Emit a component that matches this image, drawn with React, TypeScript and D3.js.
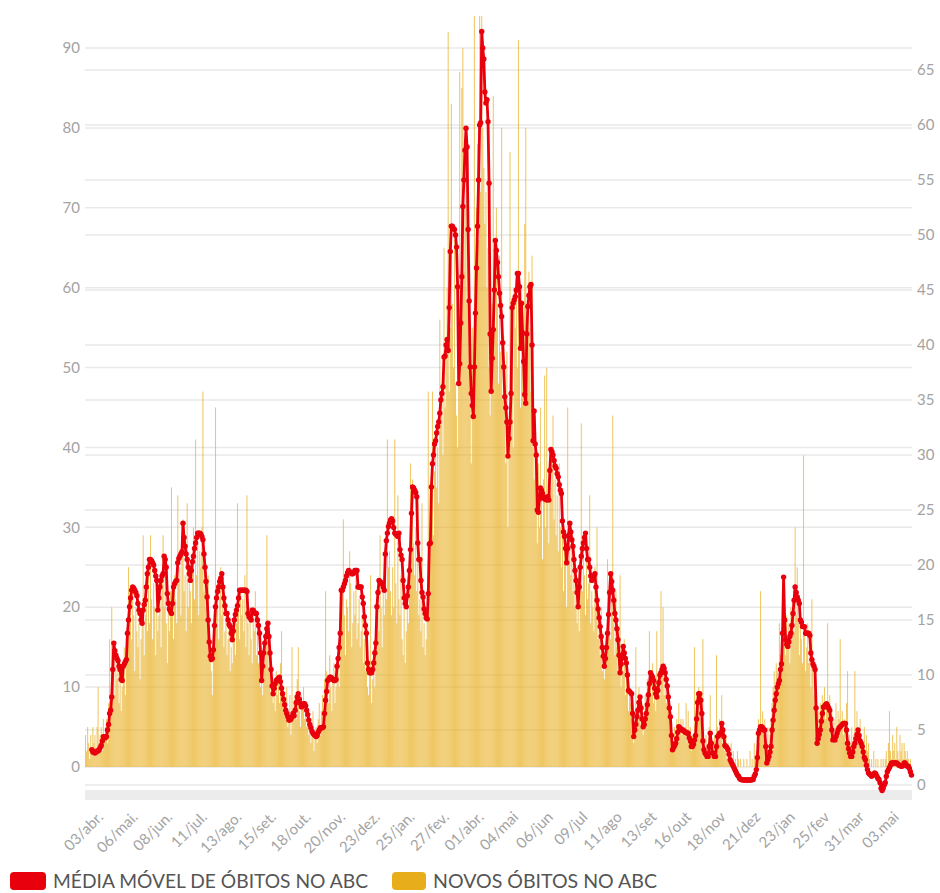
import * as d3 from "d3";

// Óbitos diários e média móvel no ABC, 21/03/2020 a 18/05/2022 (um valor por dia)
const rotulosX = ["03/abr.", "06/mai.", "08/jun.", "11/jul.", "13/ago.", "15/set.", "18/out.", "20/nov.", "23/dez.", "25/jan.", "27/fev.", "01/abr.", "04/mai", "06/jun", "09/jul", "11/ago", "13/set", "16/out", "18/nov", "21/dez", "23/jan", "25/fev", "31/mar", "03.mai"];
const primeiroRotulo = 13;
const passoRotulo = 33;
const ticksEsq = [0, 10, 20, 30, 40, 50, 60, 70, 80, 90];
const ticksDir = [0, 5, 10, 15, 20, 25, 30, 35, 40, 45, 50, 55, 60, 65];

// novos óbitos (eixo esquerdo)
const novos1 = [4,2,5,3,1,4,2,5,3,4, 2,5,10,3,4,5,2,6,4,5, 6,3,8,16,7,20,12,15,9,13, 11,14,8,13,7,10,12,15,9,16, 14,25,18,21,16,22,19,12,20,17, 15,18,11,16,20,29,14,19,22,17, 24,18,29,21,16,23,20,14,22,17, 19,21,15,23,29,20,24,18,13,21, 17,22,35,19,16,24,21,18,34,23, 25,19,27,31,22,24,17,33,20,23];
const novos2 = [22,18,26,30,21,41,24,28,19,27, 25,30,47,22,26,20,18,24,14,16, 12,9,15,18,45,20,23,16,21,25, 19,22,15,17,20,14,16,18,12,15, 13,17,19,14,18,33,20,16,22,19, 21,17,24,15,34,18,14,20,16,13, 19,17,22,14,18,13,16,10,12,9, 15,13,18,29,16,12,14,9,11,8, 10,7,12,9,11,8,13,17,9,7, 8,6,10,5,7,9,4,15,6,8];
const novos3 = [9,6,11,15,7,5,9,8,10,6, 8,5,7,4,6,3,5,7,2,4, 5,3,6,8,4,7,9,6,11,22, 12,9,8,14,10,7,11,13,8,10, 12,15,10,18,16,22,31,19,14,21, 20,17,27,23,15,18,22,19,24,16, 18,21,15,17,19,13,16,12,14,10, 9,12,24,8,11,13,10,16,18,21, 17,29,20,15,22,19,24,21,41,25, 27,22,19,25,20,41,23,18,34,21];
const novos4 = [19,24,16,14,20,13,17,22,18,25, 38,26,36,28,24,30,22,34,19,21, 17,33,15,18,14,16,20,47,24,28, 32,47,29,37,42,35,40,33,56,44, 48,39,65,45,52,60,92,47,55,83, 58,50,66,48,44,40,52,87,60,85, 90,62,70,75,58,66,50,45,38,55, 50,94,60,70,78,66,94,72,94,80, 75,68,72,60,65,50,44,52,58,84, 62,55,70,58,48,64,52,80,46,54];
const novos5 = [45,38,52,30,42,77,48,56,40,60, 55,62,50,91,58,45,60,52,48,68, 80,50,58,62,55,47,64,40,36,44, 32,28,38,30,45,34,26,36,49,30, 50,33,28,38,35,40,44,31,36,29, 34,27,38,30,25,32,22,28,26,20, 45,26,30,24,28,22,27,20,24,18, 21,17,25,43,22,28,24,19,26,21, 23,34,18,22,20,17,25,21,30,16, 18,14,20,12,15,11,13,16,26,19];
const novos6 = [20,16,24,44,18,14,22,15,12,17, 24,10,14,12,16,9,13,11,7,10, 8,6,9,3,5,15,6,8,10,7, 5,8,4,6,9,7,11,8,17,12, 9,13,8,11,7,17,10,12,9,22, 12,20,9,13,8,11,7,9,5,3, 4,2,5,3,6,4,8,5,6,4, 6,4,5,8,3,7,4,5,2,4, 3,15,5,9,7,10,8,6,4,16, 3,2,4,1,3,5,9,4,2,3];
const novos7 = [4,2,14,5,3,6,4,9,3,5, 2,4,1,3,2,1,3,1,2,0, 1,0,2,1,0,1,0,0,1,0, 0,1,0,0,2,0,1,0,3,1, 2,4,6,3,22,5,7,4,6,3, 3,5,2,4,6,8,10,12,9,13, 12,10,18,14,16,20,23,17,14,19, 15,18,13,20,16,21,17,30,19,25, 18,14,20,16,13,39,17,12,15,18, 13,16,10,21,12,9,11,6,4,7];
const novos8 = [5,8,6,9,7,10,6,8,18,7, 9,5,7,3,6,4,8,5,7,6, 16,5,7,4,6,3,8,12,2,4, 3,5,2,4,12,3,7,5,4,6, 4,3,2,5,1,4,2,3,1,0, 1,0,2,0,1,0,1,0,0,1, 0,1,0,1,2,0,3,7,2,1, 4,2,3,1,5,2,1,4,2,3, 1,3,2,1,2,1,0,1,0];

// média móvel (eixo direito)
const media1 = [null,null,null,null,null,null,3.2,3.0,3.0,2.9, 3.0,3.1,3.1,3.2,3.4,3.6,4.0,4.4,4.4,4.3, 4.4,5.0,5.5,6.5,6.8,8.0,10.5,12.9,12.2,11.8, 11.5,11.3,10.8,10.5,9.6,9.5,10.8,11.0,11.2,11.4, 13.8,15.0,16.2,17.0,17.7,18.0,17.9,17.7,17.5,17.2, 16.5,15.9,15.6,15.0,14.7,15.9,16.4,16.8,18.0,19.2, 19.8,20.5,20.5,20.4,20.2,20.0,19.5,19.0,18.6,15.9, 17.0,18.0,18.6,19.0,19.2,20.8,20.5,19.8,17.4,16.5, 16.0,15.8,15.6,16.5,18.0,18.3,18.5,18.6,20.2,20.6, 20.8,21.0,21.2,23.8,22.5,21.7,21.0,20.5,19.8,19.2];
const media2 = [18.6,19.5,20.3,20.8,21.5,22.0,22.5,22.9,22.9,22.9, 22.8,22.6,22.3,21.0,19.8,18.5,17.1,15.0,13.0,11.7, 11.4,11.5,12.3,14.5,16.2,17.0,17.6,18.0,18.5,18.8, 19.2,18.0,17.0,16.3,15.6,15.6,15.0,14.6,14.4,13.8, 13.2,14.0,15.0,15.5,15.9,16.3,17.0,17.7,17.7,17.7, 17.7,17.7,17.7,17.7,17.6,15.6,15.3,15.2,15.0,15.9, 15.9,15.7,15.6,15.6,15.0,14.5,13.8,12.0,9.5,10.8, 12.0,12.9,13.5,14.2,14.7,13.5,12.0,10.5,9.0,8.3, 8.8,9.2,9.5,9.6,9.7,9.8,9.4,8.8,8.3,7.8, 7.3,6.8,6.5,6.2,5.9,5.9,6.0,6.2,6.5,6.3];
const media3 = [6.8,7.5,8.0,8.3,7.8,7.4,7.1,7.2,7.4,7.4, 7.2,6.8,6.4,5.9,5.5,5.2,4.9,4.7,4.6,4.5, 4.4,4.5,4.8,5.0,5.2,5.2,5.2,5.3,6.5,7.7, 8.5,9.5,9.6,9.8,9.8,9.7,9.6,9.5,9.5,9.6, 10.8,11.5,12.5,13.8,17.7,17.7,18.0,18.3,18.6,19.0, 19.3,19.5,19.4,19.3,19.2,19.2,19.3,19.5,19.5,19.5, 18.0,18.0,18.0,18.0,17.1,16.5,15.3,14.5,13.8,11.1, 10.5,10.2,10.2,10.2,10.5,11.1,12.0,12.9,16.2,17.5, 18.6,18.5,18.4,18.3,18.0,17.7,21.0,22.2,22.9,23.5, 23.8,24.1,24.2,24.0,23.4,22.9,22.8,22.7,22.6,22.9];
const media4 = [21.4,20.9,20.5,18.6,17.0,16.5,16.2,17.2,18.0,19.5, 21.4,24.7,27.1,27.0,26.8,26.6,26.2,22.0,20.5,20.5, 18.6,17.5,17.1,16.0,15.6,15.2,15.1,17.4,21.9,22.0, 27.1,29.2,30.0,31.0,31.3,32.0,32.6,33.0,33.8,35.0, 35.6,36.2,38.9,39.0,40.0,40.5,39.5,43.4,48.5,50.8, 50.8,50.6,50.5,50.0,48.9,45.3,36.5,38.3,42.0,46.2, 52.6,55.0,57.7,59.7,58.0,50.5,44.0,38.0,35.6,34.5, 33.5,38.0,42.9,47.0,50.8,55.0,60.0,60.2,68.5,67.0, 66.0,63.0,62.0,62.3,60.3,54.7,41.0,35.8,38.8,41.4, 45.0,49.5,48.6,47.5,46.2,44.7,43.6,42.6,40.2,38.0];
const media5 = [35.3,34.3,33.0,29.9,31.5,33.0,35.6,43.4,43.8,44.1, 44.4,45.0,46.5,46.5,45.3,39.7,43.8,41.1,38.5,35.5, 34.7,41.0,43.5,44.5,45.3,45.5,40.0,31.3,34.0,31.0, 30.0,25.0,24.8,26.0,27.0,26.8,26.5,26.2,26.0,26.0, 25.9,26.2,25.9,28.6,30.5,30.3,30.0,29.5,29.0,28.8, 28.3,28.0,27.3,26.8,26.5,24.0,23.0,22.6,21.5,20.2, 21.5,22.7,23.8,23.0,22.3,21.7,20.5,19.5,18.6,17.5, 16.2,18.0,19.8,20.8,21.5,22.0,22.5,22.9,21.5,20.5, 20.5,19.8,19.0,18.6,18.8,19.0,19.2,18.0,16.8,16.0, 15.2,14.4,13.5,12.5,11.7,10.8,11.5,12.5,13.8,15.5];
const media6 = [17.5,19.2,18.5,17.7,16.8,15.6,15.0,14.2,13.2,11.8, 10.2,11.0,11.8,12.6,12.0,11.5,11.1,10.0,8.6,8.5, 8.4,8.3,6.5,4.4,5.0,5.5,6.2,6.8,7.5,8.0, 7.0,6.0,5.3,5.5,6.0,6.5,7.3,8.2,9.2,10.2, 10.0,9.8,9.5,8.8,8.3,8.0,8.6,9.3,10.0,10.2, 10.5,10.8,10.6,10.2,9.6,9.0,8.0,7.0,6.2,4.5, 3.2,3.4,3.6,3.8,4.2,4.8,5.3,5.2,5.1,5.0, 5.0,4.9,4.8,4.8,4.7,4.7,4.3,4.0,3.5,3.5, 3.7,4.1,4.5,6.0,7.5,8.3,8.3,7.7,6.5,4.0, 3.2,2.9,2.8,2.6,2.6,3.5,4.7,3.8,2.9,2.9];
const media7 = [2.6,2.6,3.5,4.4,4.5,4.7,4.7,5.6,5.0,4.4, 3.6,3.5,3.4,3.2,2.8,2.3,2.1,1.9,1.7,1.5, 1.3,1.1,0.9,0.8,0.6,0.5,0.5,0.45,0.45,0.45, 0.45,0.45,0.45,0.45,0.45,0.45,0.5,0.5,0.8,1.0, 1.4,2.5,4.7,5.0,5.3,5.3,5.2,5.0,5.0,3.5, 2.0,2.3,2.6,3.0,3.5,5.0,5.9,6.8,7.7,8.3, 8.9,9.2,9.5,10.5,11.0,13.8,18.9,15.0,13.2,12.8, 12.6,13.0,13.5,13.8,14.5,15.6,16.8,18.0,17.5,17.1, 16.8,16.5,15.0,14.8,14.4,14.4,14.4,13.8,13.8,13.8, 13.8,13.6,12.0,11.4,11.0,10.8,10.5,7.0,3.8,4.2];
const media8 = [4.6,5.0,5.8,6.5,7.1,7.1,7.3,7.4,7.2,7.0, 6.8,6.0,5.0,4.1,4.3,4.1,4.4,4.7,5.0,5.2, 5.3,5.4,5.5,5.6,5.6,5.6,5.0,3.8,3.3,2.9, 2.6,2.6,3.0,3.5,3.8,4.2,4.6,5.0,4.5,4.0, 3.8,3.5,3.0,2.5,2.3,1.8,1.4,1.1,1.0,0.9, 0.8,0.9,1.0,1.1,1.0,0.8,0.6,0.5,0.2,-0.3, -0.5,-0.3,0.0,0.2,0.8,1.2,1.4,1.6,1.8,2.0, 2.0,2.0,2.0,2.0,2.0,1.9,1.8,1.8,1.7,1.7, 1.8,2.0,2.0,1.8,1.7,1.7,1.5,1.2,0.9];

const VERMELHO = "#e8000d";
const AMARELO = "#e8ad1a";
const CINZA = "#a3a3a3";

export default function App() {
  const novos = [...novos1, ...novos2, ...novos3, ...novos4, ...novos5, ...novos6, ...novos7, ...novos8];
  const media: (number | null)[] = [...media1, ...media2, ...media3, ...media4, ...media5, ...media6, ...media7, ...media8];

  const x = d3.scaleBand<number>().domain(d3.range(novos.length)).range([85, 912]);
  const bw = x.bandwidth();
  const cx = (i: number) => (x(i) as number) + bw / 2;
  const yEsq = d3.scaleLinear().domain([0, 90]).range([767, 48]);
  const yDir = d3.scaleLinear().domain([0, 65]).range([785, 70]);

  const linha = d3.line<number | null>()
    .defined((d) => d != null)
    .x((d, i) => cx(i))
    .y((d) => yDir(d as number));

  const ticksX = rotulosX.map((r, k) => ({ r, i: primeiroRotulo + k * passoRotulo }));

  return (
    <div style={{ position: "absolute", left: 0, top: 0 }}>
      <svg width={940} height={893} style={{ display: "block", fontFamily: "Lato, sans-serif" }}>
        <rect width={940} height={893} fill="#fff" />
        {/* grades dos dois eixos */}
        {ticksEsq.map((t) => (
          <line key={"ge" + t} x1={85} x2={912} y1={yEsq(t)} y2={yEsq(t)} stroke="#e9e9e9" strokeWidth={1.5} />
        ))}
        {ticksDir.map((t) => (
          <line key={"gd" + t} x1={85} x2={912} y1={yDir(t)} y2={yDir(t)} stroke="#e9e9e9" strokeWidth={1.5} />
        ))}
        <rect x={85} y={790} width={827} height={10} fill="#ececec" />

        {/* barras */}
        <g fill={AMARELO} fillOpacity={0.68}>
          {novos.map((v, i) => (
            <rect key={i} x={x(i)} y={yEsq(v)} width={bw} height={yEsq(0) - yEsq(v)} />
          ))}
        </g>

        {/* média móvel */}
        <path d={linha(media) ?? ""} fill="none" stroke={VERMELHO} strokeWidth={2.8} strokeLinejoin="round" />
        <g fill={VERMELHO}>
          {media.map((v, i) => (v == null ? null : <circle key={i} cx={cx(i)} cy={yDir(v)} r={2.7} />))}
        </g>

        {/* eixos */}
        {ticksEsq.map((t) => (
          <text key={"te" + t} x={80} y={yEsq(t)} dy="0.35em" textAnchor="end" fontSize={15} fill={CINZA}>{t}</text>
        ))}
        {ticksDir.map((t) => (
          <text key={"td" + t} x={917} y={yDir(t)} dy="0.35em" textAnchor="start" fontSize={15} fill={CINZA}>{t}</text>
        ))}
        {ticksX.map(({ r, i }) => (
          <text key={r} transform={`translate(${cx(i) + 5},818) rotate(-45)`} textAnchor="end" fontSize={15} fill={CINZA}>{r}</text>
        ))}

        {/* legenda */}
        <rect x={10} y={872} width={36} height={18} rx={4} fill={VERMELHO} />
        <text x={53} y={888} fontSize={20} fill="#555" textLength={315} lengthAdjust="spacingAndGlyphs">MÉDIA MÓVEL DE ÓBITOS NO ABC</text>
        <rect x={392} y={872} width={34} height={18} rx={4} fill={AMARELO} />
        <text x={433} y={888} fontSize={20} fill="#555" textLength={224} lengthAdjust="spacingAndGlyphs">NOVOS ÓBITOS NO ABC</text>
      </svg>
    </div>
  );
}
